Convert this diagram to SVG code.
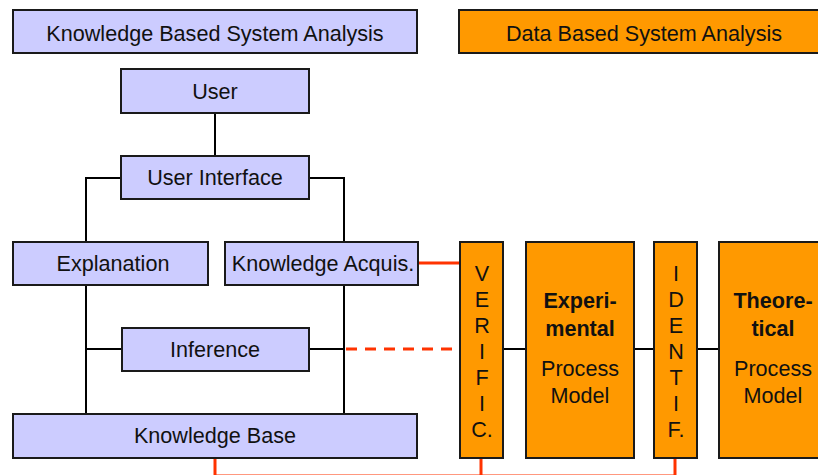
<svg xmlns="http://www.w3.org/2000/svg" width="818" height="475" viewBox="0 0 818 475">
<style>
.b{fill:#CCCCFF;stroke:#1a1a1a;stroke-width:2}
.o{fill:#FF9900;stroke:#1a1a1a;stroke-width:2}
text{font-family:"Liberation Sans",Arial,sans-serif;font-size:21.6px;fill:#111;text-anchor:middle}
.bold{font-weight:bold}
.k{stroke:#000;stroke-width:2;fill:none}
.r{stroke:#FF3300;stroke-width:3;fill:none}
</style>
<rect width="818" height="475" fill="#fff"/>
<g id="connectors">
<line class="k" x1="215" y1="113" x2="215" y2="156"/>
<polyline class="k" points="121,178 86,178 86,242"/>
<polyline class="k" points="309,178 344,178 344,242"/>
<line class="k" x1="86" y1="285" x2="86" y2="414"/>
<line class="k" x1="344" y1="285" x2="344" y2="414"/>
<line class="k" x1="86" y1="349" x2="122" y2="349"/>
<line class="k" x1="309" y1="349" x2="344" y2="349"/>
<line class="r" x1="346" y1="349" x2="459" y2="349" stroke-dasharray="11 8"/>
<line class="r" x1="418" y1="263" x2="459" y2="263"/>
<line class="k" x1="503" y1="349" x2="526" y2="349"/>
<line class="k" x1="634" y1="349" x2="654" y2="349"/>
<line class="k" x1="697" y1="349" x2="719" y2="349"/>
<line class="r" x1="215" y1="458" x2="215" y2="475"/>
<line class="r" x1="481" y1="458" x2="481" y2="475"/>
<line class="r" x1="675" y1="458" x2="675" y2="475"/>
<line x1="215" y1="475.5" x2="675" y2="475.5" stroke="#FF3300" stroke-width="2"/>
</g>
<g id="kbsa"><rect class="b" x="13" y="10" width="404" height="43"/><text x="215" y="41">Knowledge Based System Analysis</text></g>
<g id="dbsa"><rect class="o" x="459" y="10" width="380" height="43"/><text x="644" y="41">Data Based System Analysis</text></g>
<g id="user"><rect class="b" x="121" y="69" width="188" height="44"/><text x="215" y="99">User</text></g>
<g id="ui"><rect class="b" x="121" y="156" width="188" height="43"/><text x="215" y="185">User Interface</text></g>
<g id="explanation"><rect class="b" x="13" y="242" width="195" height="43"/><text x="113" y="271">Explanation</text></g>
<g id="ka"><rect class="b" x="225" y="242" width="193" height="43"/><text x="323" y="271">Knowledge Acquis.</text></g>
<g id="inference"><rect class="b" x="122" y="328" width="187" height="43"/><text x="215" y="357">Inference</text></g>
<g id="kb"><rect class="b" x="13" y="414" width="404" height="44"/><text x="215" y="443">Knowledge Base</text></g>
<g id="verific"><rect class="o" x="460" y="242" width="43" height="216"/>
<text x="482" y="281">V</text><text x="482" y="307">E</text><text x="482" y="333">R</text><text x="482" y="359">I</text><text x="482" y="385">F</text><text x="482" y="411">I</text><text x="482" y="437">C.</text></g>
<g id="experimental"><rect class="o" x="526" y="242" width="108" height="216"/>
<text class="bold" x="580" y="308">Experi-</text><text class="bold" x="580" y="336">mental</text><text x="580" y="376">Process</text><text x="580" y="403">Model</text></g>
<g id="identif"><rect class="o" x="654" y="242" width="43" height="216"/>
<text x="676" y="281">I</text><text x="676" y="307">D</text><text x="676" y="333">E</text><text x="676" y="359">N</text><text x="676" y="385">T</text><text x="676" y="411">I</text><text x="676" y="437">F.</text></g>
<g id="theoretical"><rect class="o" x="719" y="242" width="108" height="216"/>
<text class="bold" x="773" y="308">Theore-</text><text class="bold" x="773" y="336">tical</text><text x="773" y="376">Process</text><text x="773" y="403">Model</text></g>
</svg>
